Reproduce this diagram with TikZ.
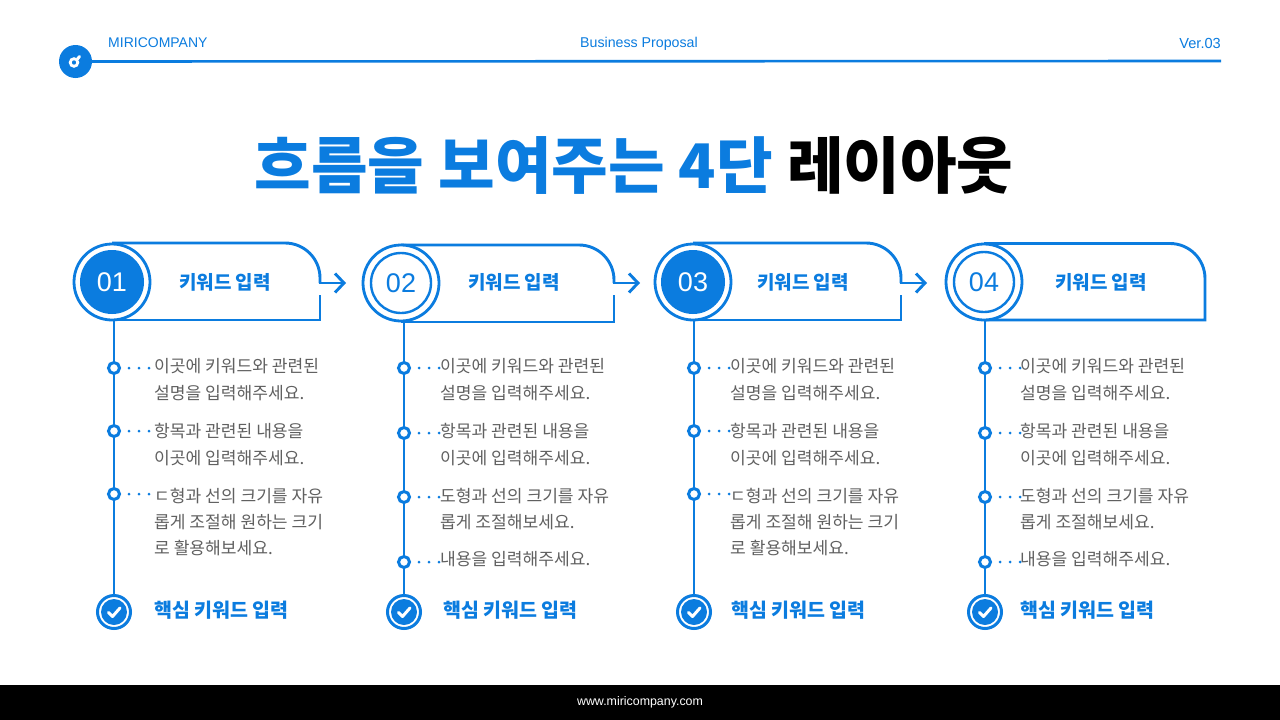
\documentclass[tikz,border=0pt]{standalone}
\usepackage{fontspec}
\usetikzlibrary{arrows.meta}
\setmainfont{Noto Sans CJK KR}
\newfontfamily\latinfont{Liberation Sans}
\definecolor{miriblue}{HTML}{0B7CDF}
\definecolor{descgray}{HTML}{606060}
\tikzset{
	flowline/.style={draw=miriblue,line width=2.9pt},
	flowarrow/.style={flowline,-{Straight Barb[length=9pt,width=19pt,line width=2.9pt]}},
	outerring/.style={circle,draw=miriblue,fill=white,line width=2.8pt,minimum size=76pt,inner sep=0pt},
	numfull/.style={circle,fill=miriblue,text=white,minimum size=64pt,inner sep=0pt,font=\latinfont\fontsize{27}{27}\selectfont},
	numring/.style={circle,draw=miriblue,fill=white,text=miriblue,line width=2.4pt,minimum size=60pt,inner sep=0pt,font=\latinfont\fontsize{27}{27}\selectfont},
	keyword/.style={text=miriblue,font=\bfseries\fontsize{19}{19}\selectfont},
	desc/.style={text=descgray,anchor=west,align=left,inner sep=0pt,font=\fontsize{17.1}{26.3}\selectfont},
	bulletdot/.style={circle,draw=miriblue,fill=white,line width=3pt,minimum size=11pt,inner sep=0pt},
	dotrow/.style={draw=miriblue,line width=3pt,line cap=round,dash pattern=on 0pt off 10pt},
	checkouter/.style={circle,draw=miriblue,fill=white,line width=3pt,minimum size=33pt,inner sep=0pt},
	checkinner/.style={circle,fill=miriblue,minimum size=26pt,inner sep=0pt},
	checkstroke/.style={draw=white,line width=3pt,line cap=round,line join=round},
	corehead/.style={text=miriblue,anchor=west,inner sep=0pt,font=\bfseries\fontsize{19.5}{20}\selectfont},
}
\begin{document}
\begin{tikzpicture}[x=1pt,y=-1pt]
	\useasboundingbox (0,0) rectangle (1280,720);
	\fill[white] (0,0) rectangle (1280,720);
	\fill[black] (0,685) rectangle (1280,720);
	\node[text=white,font=\latinfont\fontsize{12.4}{12.4}\selectfont] (footer) at (640,702) {www.miricompany.com};
	% header
	\node[circle,fill=miriblue,minimum size=33pt,inner sep=0pt] (logo) at (75.5,61.5) {};
	\coordinate (headend) at (1221,61);
	\draw[draw=miriblue,line width=2.6pt] (logo) -- (headend);
	\draw[white,line width=2.8pt] (74,62.5) circle (3.8pt);
	\draw[white,line width=3pt,line cap=round] (77.5,59) -- (79.5,56.5);
	\node[text=miriblue,anchor=west,inner sep=0pt,font=\latinfont\fontsize{14}{14}\selectfont] (company) at (108,43) {MIRICOMPANY};
	\node[text=miriblue,font=\latinfont\fontsize{14.2}{14}\selectfont] (proposal) at (639,43.5) {Business Proposal};
	\node[text=miriblue,anchor=east,inner sep=0pt,font=\latinfont\fontsize{14.6}{14}\selectfont] (version) at (1221,43) {Ver.03};
	\node[font=\bfseries\fontsize{61.5}{62}\selectfont] (title) at (634,165) {\textcolor{miriblue}{흐름을 보여주는 4단} 레이아웃};

	% panel 1
	\draw[flowline] (112,243) -- (285,243) arc (-90:0:35) -- (320,283);
	\draw[flowline] (320,295) -- (320,320) -- (112,320);
	\coordinate (tail1) at (319,283);
	\coordinate (head1) at (346,283);
	\draw[flowarrow] (tail1) -- (head1);
	\node[outerring] (ring1) at (112,282) {};
	\node[numfull] (num1) at (112,282) {01};
	\node[keyword] (key1) at (225,282) {키워드 입력};
	\node[bulletdot] (bul11) at (114,368) {};
	\node[bulletdot] (bul12) at (114,431) {};
	\node[bulletdot] (bul13) at (114,494) {};
	\node[checkouter] (chk1) at (114,612) {};
	\node[checkinner] (chkin1) at (114,612) {};
	\draw[flowline] (ring1.south -| bul11) -- (bul11);
	\draw[flowline] (bul11) -- (bul12);
	\draw[flowline] (bul12) -- (bul13);
	\draw[flowline] (bul13) -- (chk1);
	\draw[checkstroke] (108.5,612.5) -- (112.5,616.5) -- (120,608);
	\node[desc] (txt11) at (154,379.5) {이곳에 키워드와 관련된\\설명을 입력해주세요.};
	\node[desc] (txt12) at (154,444.5) {항목과 관련된 내용을\\이곳에 입력해주세요.};
	\node[desc] (txt13) at (154,522) {ㄷ형과 선의 크기를 자유\\롭게 조절해 원하는 크기\\로 활용해보세요.};
	\node[corehead] (core1) at (154,610) {핵심 키워드 입력};
	\draw[dotrow] (bul11)+(15,0) -- +(36,0);
	\draw[dotrow] (bul12)+(15,0) -- +(36,0);
	\draw[dotrow] (bul13)+(15,0) -- +(36,0);

	% panel 2
	\draw[flowline] (401,245) -- (579,245) arc (-90:0:35) -- (614,283);
	\draw[flowline] (614,295) -- (614,322) -- (401,322);
	\coordinate (tail2) at (613,283);
	\coordinate (head2) at (640,283);
	\draw[flowarrow] (tail2) -- (head2);
	\node[outerring] (ring2) at (401,283) {};
	\node[numring] (num2) at (401,283) {02};
	\node[keyword] (key2) at (514,282) {키워드 입력};
	\node[bulletdot] (bul21) at (404,368) {};
	\node[bulletdot] (bul22) at (404,433) {};
	\node[bulletdot] (bul23) at (404,497) {};
	\node[bulletdot] (bul24) at (404,562) {};
	\node[checkouter] (chk2) at (404,612) {};
	\node[checkinner] (chkin2) at (404,612) {};
	\draw[flowline] (ring2.south -| bul21) -- (bul21);
	\draw[flowline] (bul21) -- (bul22);
	\draw[flowline] (bul22) -- (bul23);
	\draw[flowline] (bul23) -- (bul24);
	\draw[flowline] (bul24) -- (chk2);
	\draw[checkstroke] (398.5,612.5) -- (402.5,616.5) -- (410,608);
	\node[desc] (txt21) at (440,379.5) {이곳에 키워드와 관련된\\설명을 입력해주세요.};
	\node[desc] (txt22) at (440,444.5) {항목과 관련된 내용을\\이곳에 입력해주세요.};
	\node[desc] (txt23) at (440,509) {도형과 선의 크기를 자유\\롭게 조절해보세요.};
	\node[desc] (txt24) at (440,559.5) {내용을 입력해주세요.};
	\node[corehead] (core2) at (443,610) {핵심 키워드 입력};
	\draw[dotrow] (bul21)+(15,0) -- +(36,0);
	\draw[dotrow] (bul22)+(15,0) -- +(36,0);
	\draw[dotrow] (bul23)+(15,0) -- +(36,0);
	\draw[dotrow] (bul24)+(15,0) -- +(36,0);

	% panel 3
	\draw[flowline] (693,243) -- (866,243) arc (-90:0:35) -- (901,283);
	\draw[flowline] (901,295) -- (901,320) -- (693,320);
	\coordinate (tail3) at (900,283);
	\coordinate (head3) at (927,283);
	\draw[flowarrow] (tail3) -- (head3);
	\node[outerring] (ring3) at (693,282) {};
	\node[numfull] (num3) at (693,282) {03};
	\node[keyword] (key3) at (803,282) {키워드 입력};
	\node[bulletdot] (bul31) at (694,368) {};
	\node[bulletdot] (bul32) at (694,431) {};
	\node[bulletdot] (bul33) at (694,494) {};
	\node[checkouter] (chk3) at (694,612) {};
	\node[checkinner] (chkin3) at (694,612) {};
	\draw[flowline] (ring3.south -| bul31) -- (bul31);
	\draw[flowline] (bul31) -- (bul32);
	\draw[flowline] (bul32) -- (bul33);
	\draw[flowline] (bul33) -- (chk3);
	\draw[checkstroke] (688.5,612.5) -- (692.5,616.5) -- (700,608);
	\node[desc] (txt31) at (730,379.5) {이곳에 키워드와 관련된\\설명을 입력해주세요.};
	\node[desc] (txt32) at (730,444.5) {항목과 관련된 내용을\\이곳에 입력해주세요.};
	\node[desc] (txt33) at (730,522) {ㄷ형과 선의 크기를 자유\\롭게 조절해 원하는 크기\\로 활용해보세요.};
	\node[corehead] (core3) at (731,610) {핵심 키워드 입력};
	\draw[dotrow] (bul31)+(15,0) -- +(36,0);
	\draw[dotrow] (bul32)+(15,0) -- +(36,0);
	\draw[dotrow] (bul33)+(15,0) -- +(36,0);

	% panel 4
	\draw[flowline] (984,243.5) -- (1170,243.5) arc (-90:0:35) -- (1205,320) -- (984,320);
	\node[outerring] (ring4) at (984,282) {};
	\node[numring] (num4) at (984,282) {04};
	\node[keyword] (key4) at (1101,282) {키워드 입력};
	\node[bulletdot] (bul41) at (985,368) {};
	\node[bulletdot] (bul42) at (985,433) {};
	\node[bulletdot] (bul43) at (985,497) {};
	\node[bulletdot] (bul44) at (985,562) {};
	\node[checkouter] (chk4) at (985,612) {};
	\node[checkinner] (chkin4) at (985,612) {};
	\draw[flowline] (ring4.south -| bul41) -- (bul41);
	\draw[flowline] (bul41) -- (bul42);
	\draw[flowline] (bul42) -- (bul43);
	\draw[flowline] (bul43) -- (bul44);
	\draw[flowline] (bul44) -- (chk4);
	\draw[checkstroke] (979.5,612.5) -- (983.5,616.5) -- (991,608);
	\node[desc] (txt41) at (1020,379.5) {이곳에 키워드와 관련된\\설명을 입력해주세요.};
	\node[desc] (txt42) at (1020,444.5) {항목과 관련된 내용을\\이곳에 입력해주세요.};
	\node[desc] (txt43) at (1020,509) {도형과 선의 크기를 자유\\롭게 조절해보세요.};
	\node[desc] (txt44) at (1020,559.5) {내용을 입력해주세요.};
	\node[corehead] (core4) at (1020,610) {핵심 키워드 입력};
	\draw[dotrow] (bul41)+(15,0) -- +(36,0);
	\draw[dotrow] (bul42)+(15,0) -- +(36,0);
	\draw[dotrow] (bul43)+(15,0) -- +(36,0);
	\draw[dotrow] (bul44)+(15,0) -- +(36,0);
\end{tikzpicture}
\end{document}
